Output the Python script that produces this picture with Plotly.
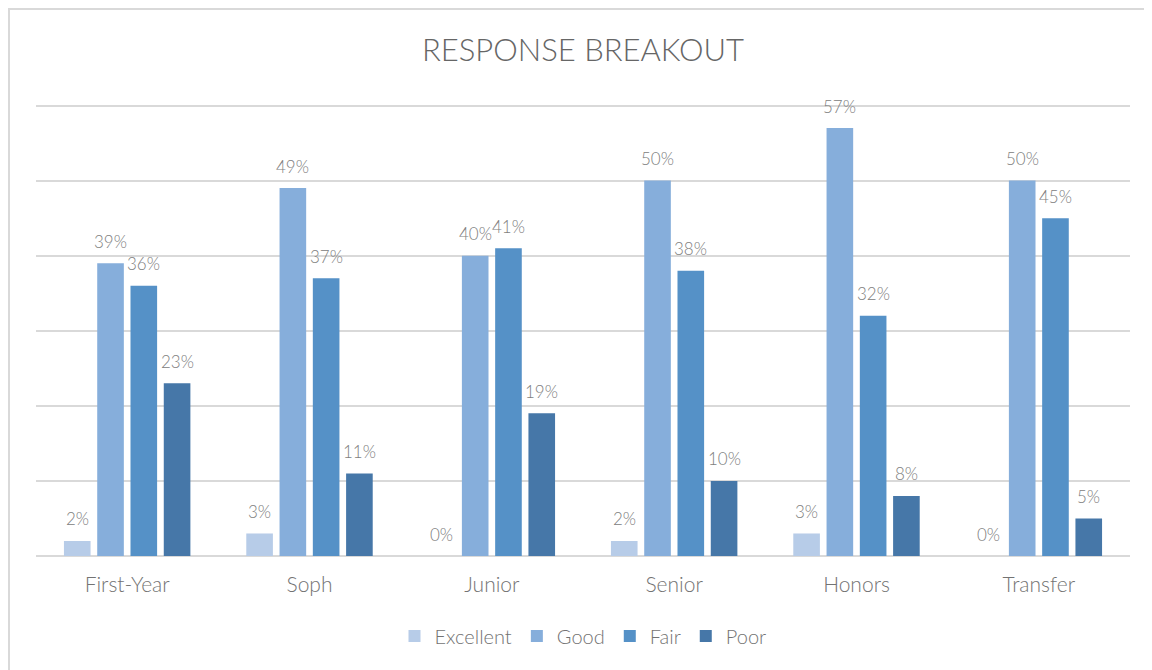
import plotly.graph_objects as go

categories = ["First-Year", "Soph", "Junior", "Senior", "Honors", "Transfer"]
excellent = [2, 3, 0, 2, 3, 0]
good = [39, 49, 40, 50, 57, 50]
fair = [36, 37, 41, 38, 32, 45]
poor = [23, 11, 19, 10, 8, 5]

SERIES = {
    "Excellent": (excellent, "#b7cce8"),
    "Good": (good, "#86aedb"),
    "Fair": (fair, "#5591c7"),
    "Poor": (poor, "#4677a8"),
}

FONT = "Lato, 'Open Sans', sans-serif"
BARGAP = 0.27
GROUPGAP = 0.2

fig = go.Figure()
annotations = []
n = len(SERIES)
slot = (1 - BARGAP) / n
for i, (name, (vals, color)) in enumerate(SERIES.items()):
    fig.add_trace(go.Bar(
        x=categories,
        y=vals,
        name=name,
        marker=dict(color=color, line=dict(width=0)),
    ))
    # value labels sit well above each bar, as in the original
    offset = -(1 - BARGAP) / 2 + slot * (i + 0.5)
    for j, v in enumerate(vals):
        annotations.append(dict(
            x=j + offset, y=v, xref="x", yref="y",
            text=f"{v}%", showarrow=False,
            yanchor="middle", yshift=22,
            font=dict(size=17, color="#808080", family=FONT, weight=300),
        ))

fig.update_layout(
    barmode="group",
    bargap=BARGAP,
    bargroupgap=GROUPGAP,
    width=1144,
    height=662,
    title=dict(
        text="RESPONSE BREAKOUT",
        x=0.5, xref="paper", xanchor="center",
        y=1 - 42 / 662, yref="container", yanchor="middle",
        font=dict(size=31, color="#666666", family=FONT, weight=300),
    ),
    xaxis=dict(
        showgrid=False,
        showline=False,
        ticks="",
        ticklabelstandoff=14,
        tickfont=dict(size=21, color="#737373", family=FONT, weight=300),
    ),
    yaxis=dict(
        range=[0, 61],
        tickvals=[0, 10, 20, 30, 40, 50, 60],
        showticklabels=False,
        gridcolor="#d9d9d9",
        gridwidth=2,
        zeroline=True,
        zerolinecolor="#d9d9d9",
        zerolinewidth=2,
    ),
    legend=dict(
        orientation="h",
        x=0.5, xanchor="center",
        y=-80 / 458, yanchor="middle",
        font=dict(size=20, color="#737373", family=FONT, weight=300),
        itemwidth=30,
    ),
    annotations=annotations,
    plot_bgcolor="white",
    paper_bgcolor="white",
    margin=dict(l=28, r=22, t=90, b=114),
    shapes=[dict(
        type="rect", xref="paper", yref="paper",
        x0=-27 / 1094, x1=1.3, y0=-0.6, y1=1 + 89 / 458,
        line=dict(color="#d9d9d9", width=2),
    )],
)

fig.write_html("out.html")
